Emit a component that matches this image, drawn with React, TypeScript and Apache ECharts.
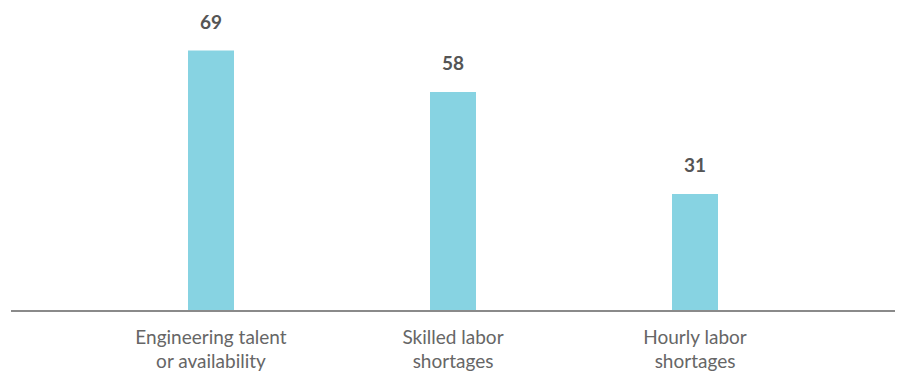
import React, { useEffect, useRef } from "react";
import * as echarts from "echarts";

const categories: string[] = [
  "Engineering talent\nor availability",
  "Skilled labor\nshortages",
  "Hourly labor\nshortages",
];
const values: number[] = [69, 58, 31];

export default function App() {
  const ref = useRef<HTMLDivElement>(null);
  useEffect(() => {
    if (!ref.current) return;
    const chart = echarts.init(ref.current, null, { renderer: "svg" });
    chart.setOption({
      animation: false,
      grid: { left: 90, right: 85, top: 9, bottom: 63, outerBoundsMode: "none", containLabel: false },
      xAxis: {
        type: "category",
        data: categories,
        axisLine: { show: false },
        axisTick: { show: false },
        axisLabel: {
          color: "#666666",
          fontFamily: "Lato",
          fontSize: 19,
          lineHeight: 24,
          margin: 13,
        },
      },
      yAxis: {
        type: "value",
        min: 0,
        max: 80,
        show: false,
        splitLine: { show: false },
      },
      graphic: [
        {
          type: "line",
          shape: { x1: 11, y1: 311, x2: 895, y2: 311 },
          style: { stroke: "#8a8a8a", lineWidth: 2 },
          z: 10,
        },
      ],
      series: [
        {
          type: "bar",
          data: values,
          barWidth: 46,
          itemStyle: { color: "#87D3E2" },
          label: {
            show: true,
            position: "top",
            distance: 20,
            color: "#555555",
            fontFamily: "Lato",
            fontWeight: "bold",
            fontSize: 19,
          },
        },
      ],
    });
    return () => chart.dispose();
  }, []);
  return <div ref={ref} style={{ width: 901, height: 374, position: "absolute", left: 0, top: 0 }} />;
}
